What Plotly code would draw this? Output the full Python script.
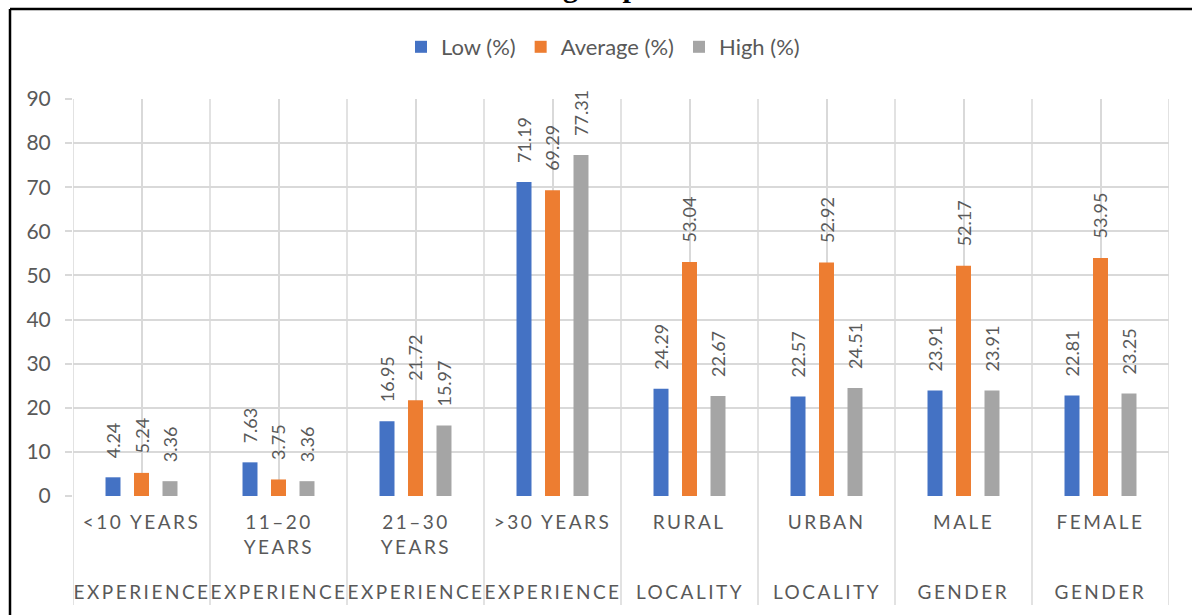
import plotly.graph_objects as go

# ---- data ----
groups = ["EXPERIENCE", "EXPERIENCE", "EXPERIENCE", "EXPERIENCE",
          "LOCALITY", "LOCALITY", "GENDER", "GENDER"]
subgroups = ["<10 YEARS", "11–20<br>YEARS", "21–30<br>YEARS", ">30 YEARS",
             "RURAL", "URBAN", "MALE", "FEMALE"]
low = [4.24, 7.63, 16.95, 71.19, 24.29, 22.57, 23.91, 22.81]
average = [5.24, 3.75, 21.72, 69.29, 53.04, 52.92, 52.17, 53.95]
high = [3.36, 3.36, 15.97, 77.31, 22.67, 24.51, 23.91, 23.25]
series_names = ["Low (%)", "Average (%)", "High (%)"]
y_ticks = [0, 10, 20, 30, 40, 50, 60, 70, 80, 90]

# ---- styling ----
W, H = 1192, 615
ML, MR, MT, MB = 73, 23, 99, 119
PW, PH = W - ML - MR, H - MT - MB
colors = ["#4472C4", "#ED7D31", "#A5A5A5"]
text_col = "#595959"
grid_col = "#D9D9D9"
font_fam = "Lato, 'Open Sans', sans-serif"
slot_px = 28.5  # horizontal distance between neighbouring bars in a group


def px_x(px):
    return (px - ML) / PW


def px_y(py):
    return (H - MB - py) / PH


n = len(subgroups)
xs = list(range(n))
series = [low, average, high]

fig = go.Figure()
for name, vals, col in zip(series_names, series, colors):
    fig.add_trace(go.Bar(x=xs, y=vals, name=name, marker=dict(color=col, line=dict(width=0))))

annotations = []
# rotated value labels above each bar
for k, vals in enumerate(series):
    for i, v in enumerate(vals):
        annotations.append(dict(
            x=xs[i], y=v, xref="x", yref="y", text=f"{v:.2f}", textangle=-90,
            xanchor="center", yanchor="bottom", xshift=(k - 1) * slot_px, yshift=17,
            showarrow=False, font=dict(family=font_fam, size=18, color=text_col)))

# two-level category labels
for i in range(n):
    annotations.append(dict(
        x=xs[i], y=0, xref="x", yref="paper", text=subgroups[i], xanchor="center",
        yanchor="top", yshift=-12, showarrow=False,
        font=dict(family=font_fam, size=19, color=text_col)))
    annotations.append(dict(
        x=xs[i], y=0, xref="x", yref="paper", text=groups[i], xanchor="center",
        yanchor="middle", yshift=-95, showarrow=False,
        font=dict(family=font_fam, size=19, color=text_col)))

# tail of the document heading above the frame
annotations.append(dict(
    x=px_x(601), y=px_y(4.5), xref="paper", yref="paper", text="<b>group</b>",
    xanchor="center", yanchor="bottom", showarrow=False,
    font=dict(family="Liberation Serif, serif", size=30, color="black")))

shapes = []
# category separators running down through the label rows
for i in range(n + 1):
    b = i - 0.5
    shapes.append(dict(type="line", xref="x", yref="paper", x0=b, x1=b,
                       y0=1, y1=px_y(605), layer="below",
                       line=dict(color=grid_col, width=1.5)))
# outer frame (left and top edges)
shapes.append(dict(type="line", xref="paper", yref="paper", x0=px_x(10), x1=px_x(10),
                   y0=px_y(9), y1=px_y(630), line=dict(color="black", width=2.5)))
shapes.append(dict(type="line", xref="paper", yref="paper", x0=px_x(10), x1=px_x(1200),
                   y0=px_y(9), y1=px_y(9), line=dict(color="black", width=2.5)))

fig.update_layout(
    width=W, height=H,
    margin=dict(l=ML, r=MR, t=MT, b=MB, pad=0),
    paper_bgcolor="white", plot_bgcolor="white",
    barmode="group", bargap=0.376, bargroupgap=0.474,
    showlegend=True,
    legend=dict(orientation="h", x=px_x(401), xanchor="left", y=px_y(47), yanchor="middle",
                font=dict(family=font_fam, size=22, color=text_col),
                bgcolor="rgba(0,0,0,0)", itemclick=False),
    annotations=annotations, shapes=shapes,
    xaxis=dict(range=[-0.5, n - 0.5], tickvals=xs, showticklabels=False, ticks="",
               showgrid=True, gridcolor=grid_col, gridwidth=1.5, zeroline=False,
               showline=False, fixedrange=True),
    yaxis=dict(range=[0, 90], tickvals=y_ticks, showgrid=True, gridcolor=grid_col,
               gridwidth=1.5, zeroline=False, showline=False, ticks="outside",
               ticklen=7, tickwidth=1.5, tickcolor=grid_col, ticklabelstandoff=10,
               tickfont=dict(family=font_fam, size=21, color=text_col), fixedrange=True),
)

# widen the spacing of the upper-case category labels
post = """
var gd = document.getElementById('{plot_id}');
function spaceCaps() {
  gd.querySelectorAll('text.annotation-text').forEach(function (t) {
    if (/[A-Z]{3,}/.test(t.textContent)) { t.setAttribute('letter-spacing', '2.5px'); }
  });
}
spaceCaps();
gd.on('plotly_afterplot', spaceCaps);
"""

fig.write_html("out.html", config={"displayModeBar": False}, post_script=post)
